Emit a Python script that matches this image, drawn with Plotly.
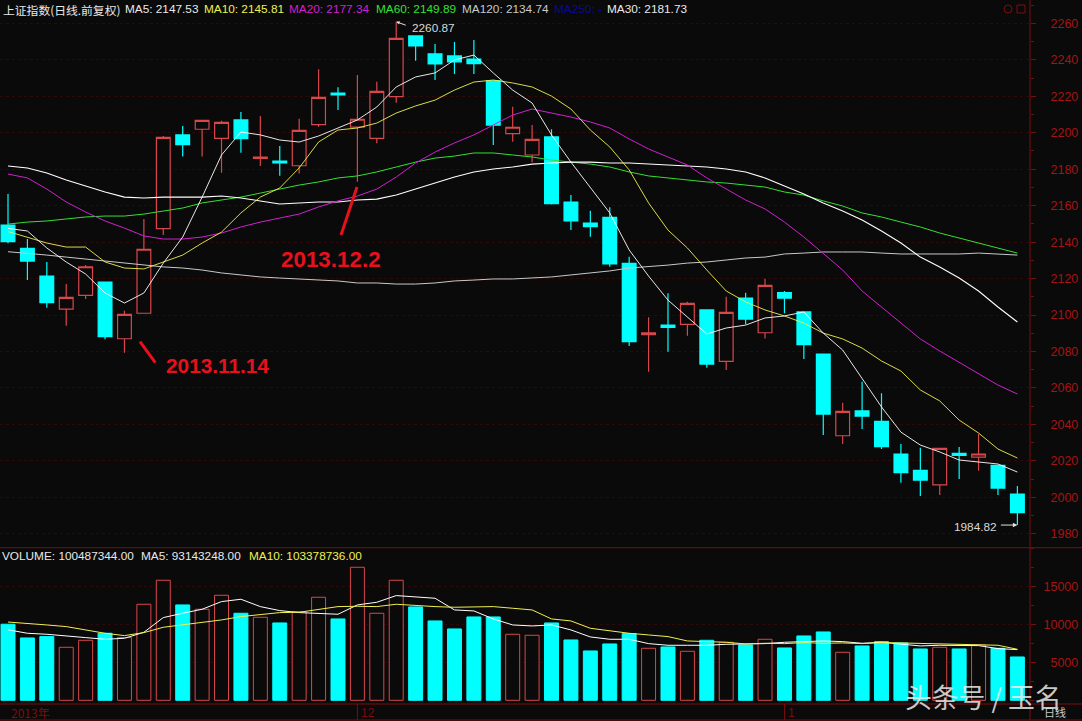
import plotly.graph_objects as go

opens = [2149.4,2136.6,2121.4,2103.2,2110.8,2118.1,2087.0,2101.0,2147.4,2198.8,2201.9,2196.9,2207.0,2185.9,2184.5,2181.9,2204.4,2221.8,2203.1,2196.9,2219.8,2253.1,2243.2,2242.1,2240.4,2228.5,2199.5,2187.8,2197.7,2162.0,2150.5,2153.6,2128.4,2089.2,2094.5,2094.9,2102.8,2074.6,2109.3,2090.3,2112.3,2101.7,2078.6,2033.8,2047.4,2041.7,2023.8,2014.8,2006.9,2024.1,2022.1,2017.6,2001.8]
highs = [2166.4,2141.7,2129.1,2117.0,2127.4,2118.1,2102.4,2152.7,2198.2,2203.7,2206.8,2206.6,2211.4,2209.2,2192.7,2207.7,2234.8,2224.9,2231.7,2228.0,2260.87,2253.1,2248.7,2249.8,2250.9,2228.5,2214.3,2204.2,2201.9,2165.8,2157.2,2159.1,2132.0,2098.8,2111.9,2107.3,2102.8,2110.1,2112.3,2119.9,2113.2,2101.7,2078.6,2051.9,2063.4,2057.1,2029.3,2027.2,2027.0,2027.6,2034.8,2017.6,2006.2]
lows = [2139.4,2119.2,2104.0,2094.2,2108.8,2086.7,2079.3,2101.0,2143.9,2186.9,2186.9,2178.1,2189.0,2181.7,2176.4,2177.7,2203.3,2212.5,2173.1,2194.2,2216.5,2239.5,2228.9,2232.2,2232.2,2193.3,2195.1,2183.8,2160.7,2146.6,2143.0,2126.5,2083.0,2068.9,2079.9,2088.7,2071.1,2069.9,2094.9,2087.2,2101.0,2075.9,2034.2,2029.3,2037.5,2026.5,2008.0,2000.7,2001.3,2010.1,2014.6,2001.3,1984.82]
closes = [2140.2,2129.6,2106.8,2109.7,2126.5,2088.1,2100.4,2136.1,2197.5,2193.4,2206.8,2205.7,2196.7,2186.7,2183.4,2201.3,2219.4,2220.7,2207.4,2222.7,2251.8,2247.6,2237.7,2238.8,2237.9,2204.2,2203.0,2196.4,2161.1,2151.7,2148.5,2128.0,2085.4,2090.3,2093.2,2106.4,2073.1,2101.5,2097.8,2116.3,2109.3,2083.7,2045.7,2047.2,2044.6,2027.8,2013.5,2009.5,2026.9,2023.0,2023.8,2005.1,1991.6]

ma5 = [2147.53,2146.1,2136.8,2129.1,2122.5,2112.1,2106.6,2112.1,2128.5,2142.8,2164.7,2187.8,2200.4,2198.8,2196.0,2194.9,2198.2,2202.6,2207.0,2214.1,2225.1,2230.6,2232.8,2239.9,2242.6,2232.8,2223.4,2216.3,2198.8,2183.9,2170.2,2156.0,2135.7,2121.4,2108.2,2098.9,2089.6,2092.9,2094.5,2098.4,2099.5,2101.7,2090.1,2080.8,2065.5,2049.6,2035.8,2028.7,2024.9,2020.5,2019.4,2018.3,2013.9]
ma10 = [2145.81,2142.8,2139.5,2137.3,2137.3,2129.1,2125.8,2125.3,2129.1,2132.9,2139.5,2145.5,2156.0,2164.7,2169.7,2180.7,2194.9,2201.5,2202.6,2205.3,2210.8,2214.7,2217.9,2223.4,2227.8,2228.9,2227.3,2225.1,2220.1,2213.0,2201.5,2192.2,2179.6,2161.5,2146.6,2136.8,2124.7,2113.2,2107.2,2102.8,2099.5,2095.6,2090.1,2086.9,2081.9,2074.8,2069.3,2058.9,2052.9,2042.4,2035.3,2026.5,2021.6]
ma20 = [2177.34,2175.2,2169.1,2162.0,2156.5,2151.6,2147.7,2143.4,2141.7,2141.7,2142.8,2145.0,2148.3,2151.0,2153.2,2155.4,2159.3,2162.6,2165.3,2169.1,2175.7,2183.4,2189.4,2194.4,2198.8,2204.2,2209.7,2213.0,2210.8,2208.6,2205.9,2202.6,2196.6,2191.1,2186.7,2182.3,2175.2,2169.1,2163.1,2158.2,2151.0,2142.8,2134.0,2124.7,2113.2,2104.4,2095.6,2086.9,2080.3,2074.2,2067.7,2061.6,2056.7]
ma60 = [2149.89,2151.0,2151.6,2152.7,2153.8,2154.3,2154.3,2155.4,2157.1,2158.7,2161.5,2163.1,2164.7,2166.9,2169.1,2171.3,2173.0,2175.2,2176.3,2178.5,2181.2,2183.9,2186.1,2187.2,2188.9,2188.9,2187.8,2186.7,2185.0,2183.9,2182.8,2181.2,2178.5,2176.3,2175.2,2174.1,2173.0,2172.4,2171.3,2170.2,2167.5,2165.8,2162.6,2159.8,2156.0,2153.8,2151.0,2148.3,2145.0,2142.3,2139.5,2136.8,2134.0]
ma120 = [2134.74,2134.0,2132.9,2131.8,2130.7,2129.6,2128.5,2127.4,2126.4,2125.8,2124.7,2123.1,2122.0,2120.9,2120.3,2119.8,2119.2,2118.7,2117.6,2117.6,2117.0,2117.0,2117.6,2118.7,2119.2,2119.8,2119.8,2120.3,2120.9,2122.0,2123.1,2124.2,2125.8,2126.4,2127.4,2128.5,2129.1,2130.2,2131.3,2131.8,2133.5,2134.0,2134.6,2134.6,2134.6,2134.0,2133.5,2133.5,2133.5,2133.5,2134.0,2133.5,2132.9]
ma30 = [2181.73,2180.7,2177.9,2174.1,2170.8,2167.5,2164.7,2164.2,2164.7,2164.7,2164.7,2165.3,2164.2,2162.6,2160.9,2161.5,2162.0,2162.0,2163.1,2163.6,2165.8,2169.1,2172.4,2175.7,2178.5,2180.1,2181.2,2182.8,2183.4,2183.9,2183.9,2183.4,2183.4,2182.8,2182.3,2181.7,2181.2,2180.1,2178.5,2175.2,2170.8,2166.4,2161.5,2157.1,2152.1,2146.1,2139.5,2131.8,2126.4,2120.3,2113.2,2104.4,2096.2]

volume = [10049,8237,8414,7004,7929,8854,8281,12686,15858,12598,12026,13876,11497,10968,10220,11717,13611,10748,17576,11497,15858,12334,10484,9427,11013,11013,8722,8590,10220,7973,6519,7444,8810,6872,7048,6475,7929,7665,7312,8061,6916,8502,9030,6343,7180,7753,7577,6784,7004,6784,7312,6872,5727]
vol_ma5 = [9314,8854,8722,8546,8281,8061,8193,8986,10924,11497,12026,13039,13347,12378,11849,11585,11497,11365,12598,12951,13832,13611,13479,11938,11805,10748,9955,9823,9955,9295,8370,8061,8061,7489,7268,7268,7268,7400,7400,7489,7665,7797,7841,7753,7533,7665,7444,7180,7268,7224,7224,6828,6696]
vol_ma10 = [10338,10176,9955,9735,9295,8854,8546,8942,9647,9955,10220,10616,11057,11365,11585,11629,12026,12378,12422,12378,12686,12510,12378,12290,12378,12378,12158,11938,10748,10484,9515,9162,8854,8634,8414,7841,7753,7665,7444,7533,7489,7621,7533,7577,7489,7621,7577,7533,7489,7400,7400,7268,6740]

price_ticks = list(range(1980, 2261, 20))
volume_ticks = [5000, 10000, 15000]
volume_tick_text = ["\u20075000", "10000", "15000"]
date_labels = [(18, "12"), (40, "1")]

W, H = 1082, 721
BG = "#0a0a0a"
RED = "#d8474a"
CYAN = "#00ffff"
AXIS = "#7d0c0c"
TICK = "#a51414"
GRID = "#2c0a0a"
PLOT_R = 1030
PANEL = 547.7
BOTTOM = 704

def px(x):
    return x / W

def py(y):
    return 1 - y / H

xs = list(range(len(closes)))
XR = [-0.412, 52.65]

fig = go.Figure()
fig.add_trace(go.Candlestick(
    x=xs, open=opens, high=highs, low=lows, close=closes, whiskerwidth=0,
    increasing=dict(line=dict(color=RED, width=1.2), fillcolor=BG),
    decreasing=dict(line=dict(color=CYAN, width=1.2), fillcolor=CYAN),
    hoverinfo="skip", xaxis="x", yaxis="y", showlegend=False))

for vals, col, w in [(ma120, "#c8c8c8", 1.0), (ma60, "#33e033", 1.0), (ma30, "#ffffff", 1.1),
                     (ma20, "#d020d0", 1.0), (ma10, "#f0f050", 0.9), (ma5, "#ffffff", 0.9)]:
    fig.add_trace(go.Scatter(x=xs, y=vals, mode="lines", line=dict(color=col, width=w),
                             xaxis="x", yaxis="y", showlegend=False, hoverinfo="skip"))

up = [c >= o for o, c in zip(opens, closes)]
fig.add_trace(go.Bar(
    x=xs, y=volume, width=0.72, xaxis="x2", yaxis="y2", showlegend=False, hoverinfo="skip",
    marker=dict(color=[BG if u else CYAN for u in up],
                line=dict(color=[RED if u else CYAN for u in up], width=1))))
for vals, col in [(vol_ma5, "#ffffff"), (vol_ma10, "#f0f050")]:
    fig.add_trace(go.Scatter(x=xs, y=vals, mode="lines", line=dict(color=col, width=1),
                             xaxis="x2", yaxis="y2", showlegend=False, hoverinfo="skip"))

ann = []
def label(x, y, text, color, size=12, family="Liberation Sans", anchor="left", **kw):
    ann.append(dict(x=px(x), y=py(y), xref="paper", yref="paper", text=text, showarrow=False,
                    xanchor=anchor, yanchor="middle", borderpad=0,
                    font=dict(color=color, size=size, family=family), **kw))

CJK = "Noto Sans CJK SC, Liberation Sans"
label(2, 9.5, "上证指数(日线.前复权)", "#e8e8e8", 11.8, CJK)
label(124, 9.5, "MA5: 2147.53", "#e8e8e8", 11.8)
label(203, 9.5, "MA10: 2145.81", "#f0f050", 11.8)
label(288, 9.5, "MA20: 2177.34", "#d020d0", 11.8)
label(374.5, 9.5, "MA60: 2149.89", "#33e033", 11.8)
label(460.5, 9.5, "MA120: 2134.74", "#c8c8c8", 11.8)
label(553, 9.5, "MA250: -", "#0a0a90", 11.8)
label(605.5, 9.5, "MA30: 2181.73", "#e8e8e8", 11.8)
label(1, 555.5, "VOLUME: 100487344.00", "#e8e8e8", 11.8)
label(140, 555.5, "MA5: 93143248.00", "#e8e8e8", 11.8)
label(247.5, 555.5, "MA10: 103378736.00", "#f0f050", 11.8)
label(9.5, 712.5, "2013年", "#7d0c0c", 12, CJK)
for i, t in date_labels:
    ann.append(dict(x=i, y=py(712.5), xref="x2", yref="paper", text=t, showarrow=False, xanchor="left",
                    xshift=2, yanchor="middle", font=dict(color="#7d0c0c", size=12, family="Liberation Sans")))
label(1043, 712, "日线", "#c8c8c8", 11, CJK)
label(280, 259, "<b>2013.12.2</b>", "#e8101c", 22.4)
label(164.5, 365, "<b>2013.11.14</b>", "#e8101c", 20.8)
label(904, 696.5, "头条号 / 玉名", "rgba(235,235,235,0.85)", 26.8, CJK)

ann.append(dict(x=20, y=highs[20], xref="x", yref="y", ax=11, ay=4, text="", showarrow=True,
                arrowhead=2, arrowwidth=1, arrowsize=0.7, arrowcolor="#e0e0e0", standoff=0))
label(411, 28.5, "2260.87", "#d8d8d8", 11.8)
ann.append(dict(x=52, y=lows[52], xref="x", yref="y", ax=-18, ay=0, text="", showarrow=True,
                arrowhead=2, arrowwidth=1, arrowsize=0.9, arrowcolor="#e0e0e0", standoff=0))
label(953, 526.5, "1984.82", "#d8d8d8", 11.8)

shapes = []
def seg(x0, y0, x1, y1, color=AXIS, width=1):
    shapes.append(dict(type="line", xref="paper", yref="paper", x0=px(x0), y0=py(y0), x1=px(x1), y1=py(y1),
                       line=dict(color=color, width=width), layer="above"))
seg(0, PANEL, W, PANEL)
seg(0, BOTTOM, W, BOTTOM)
seg(0, 720, W, 720)
seg(PLOT_R, 0, PLOT_R, 720)
for i, _ in date_labels:
    shapes.append(dict(type="line", xref="x2", yref="paper", x0=i, x1=i, y0=py(BOTTOM), y1=py(720),
                       line=dict(color=AXIS, width=1)))
seg(341, 235, 357, 187, "#e8101c", 3)
seg(140, 341.7, 155.3, 362.7, "#e8101c", 3)
shapes.append(dict(type="circle", xref="paper", yref="paper", x0=px(1004), x1=px(1012), y0=py(13), y1=py(5),
                   line=dict(color=AXIS, width=1)))
shapes.append(dict(type="rect", xref="paper", yref="paper", x0=px(1017), x1=px(1025), y0=py(13), y1=py(5),
                   line=dict(color=AXIS, width=1)))

dom_x = [0, PLOT_R / W]
common_y = dict(side="right", showgrid=True, gridcolor=GRID, griddash="dot", gridwidth=1, zeroline=False,
                showline=False, ticks="outside", ticklen=5, tickcolor=AXIS,
                tickfont=dict(color=TICK, size=12.5, family="Liberation Sans"), anchor="free", position=PLOT_R / W)
fig.update_layout(
    width=W, height=H, autosize=False, margin=dict(l=0, r=0, t=0, b=0, pad=0),
    paper_bgcolor=BG, plot_bgcolor=BG, showlegend=False, boxgap=0.29, boxgroupgap=0, bargap=0.25,
    xaxis=dict(domain=dom_x, range=XR, visible=False, rangeslider=dict(visible=False), anchor="y"),
    xaxis2=dict(domain=dom_x, range=XR, visible=False, anchor="y2"),
    yaxis=dict(domain=[py(PANEL), 1], range=[1972.4, 2272.8], tickmode="array", tickvals=price_ticks,
               ticklabelstandoff=12,
               minor=dict(dtick=10, ticklen=3, tickcolor=AXIS, ticks="outside", showgrid=False), **common_y),
    yaxis2=dict(domain=[py(BOTTOM), py(PANEL)], range=[-489, 20158], tickmode="array", tickvals=volume_ticks,
                ticktext=volume_tick_text, ticklabelstandoff=5,
                minor=dict(dtick=2500, ticklen=3, tickcolor=AXIS, ticks="outside", showgrid=False), **common_y),
    annotations=ann, shapes=shapes,
)
fig.write_html("out.html", config=dict(displayModeBar=False),
               post_script="document.body.style.margin='0';document.body.style.background='#0a0a0a';document.body.style.overflow='hidden';")
